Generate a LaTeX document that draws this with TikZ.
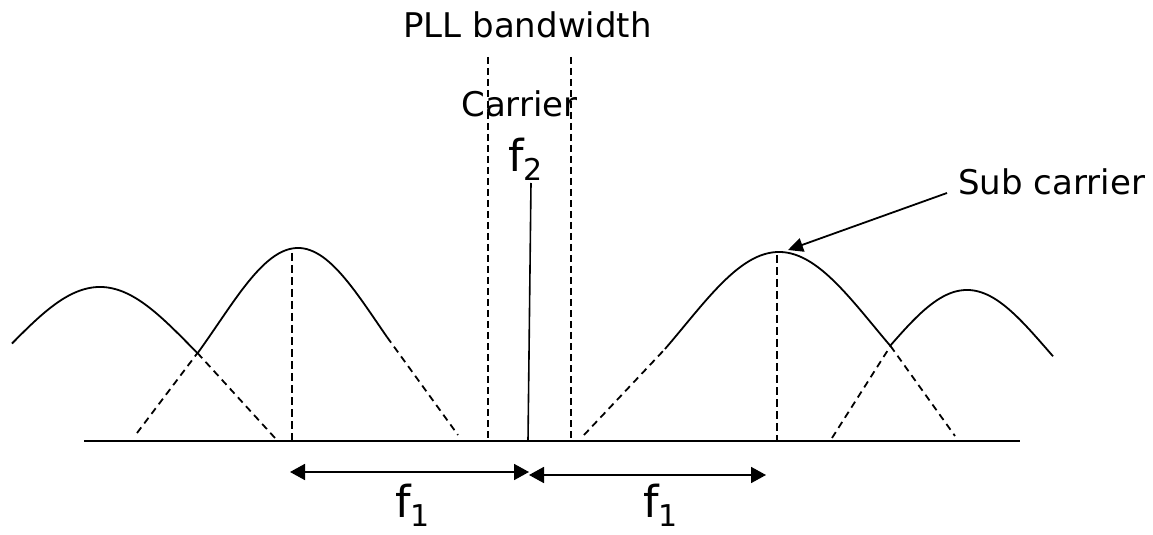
\documentclass[tikz,border=0pt]{standalone}
\usepackage{fontspec}
\setmainfont{DejaVu Sans}
\usetikzlibrary{arrows.meta}
\newcommand{\fsub}[1]{f\raisebox{-4.5pt}{\fontsize{15}{15}\selectfont #1}}

\begin{document}
\begin{tikzpicture}[x=0.5pt,y=-0.5pt,
    curve/.style={line width=0.9pt},
    tail/.style={line width=0.9pt,dash pattern=on 3.5pt off 2.5pt},
    peakline/.style={line width=0.9pt,dash pattern=on 4pt off 2pt},
    bandline/.style={line width=0.6pt,dash pattern=on 3.5pt off 2pt},
    span/.style={line width=0.9pt,{Triangle[length=7.5pt,width=8pt]}-{Triangle[length=7.5pt,width=8pt]}},
    lbl/.style={inner sep=0pt,anchor=base west,font=\fontsize{17}{20}\selectfont},
    flbl/.style={inner sep=0pt,anchor=base west,font=\fontsize{22}{24}\selectfont}]
  \useasboundingbox (0,0) rectangle (1153,535);
  % frequency axis
  \coordinate (ax0) at (84,441);
  \coordinate (ax1) at (1020,441);
  \draw[line width=1.1pt] (ax0) -- (ax1);
  % left sub carriers
  \coordinate (xl) at (197.5,353);
  \coordinate (e0) at (275,438);
  \coordinate (s1) at (137,433);
  \coordinate (m1) at (387,337);
  \coordinate (e1) at (458,435);
  \draw[curve] plot[domain=12:197.5,samples=60] (\x,{441-154*exp(-0.5*((\x-100)/92)^2)});
  \draw[curve] plot[domain=197.5:387,samples=60] (\x,{441-193*exp(-0.5*((\x-298)/80)^2)});
  \draw[tail] (xl) -- (e0);
  \draw[tail] (s1) -- (xl);
  \draw[tail] (m1) -- (e1);
  \draw[peakline] (292,253) -- (292,441);
  % right sub carriers
  \coordinate (s2) at (584,435);
  \coordinate (m2) at (665,349);
  \coordinate (xr) at (890.5,346);
  \coordinate (e2) at (955,436);
  \coordinate (s3) at (832,438);
  \draw[curve] plot[domain=665:890.5,samples=60] (\x,{441-189*exp(-0.5*((\x-779)/95)^2)});
  \draw[curve] plot[domain=890.5:1053,samples=60] (\x,{441-151*exp(-0.5*((\x-967)/80)^2)});
  \draw[tail] (s2) -- (m2);
  \draw[tail] (xr) -- (e2);
  \draw[tail] (s3) -- (xr);
  \draw[peakline] (777,255) -- (777,441);
  % PLL bandwidth and carrier
  \node[lbl] (pll) at (403,38) {PLL bandwidth};
  \draw[bandline] (488,57) -- (488,441);
  \draw[bandline] (571,57) -- (571,441);
  \node[lbl] (carrier) at (461,117) {Carrier};
  \node[flbl] (f2) at (508,172) {\fsub{2}};
  \coordinate (cfoot) at (528,441);
  \coordinate (ctop) at (531,183);
  \draw[line width=0.8pt] (cfoot) -- (ctop);
  % sub carrier label
  \node[lbl] (sub) at (958,195) {Sub carrier};
  \coordinate (subtail) at (947,193);
  \coordinate (subtip) at (788,250);
  \draw[line width=0.9pt,-{Triangle[length=7.5pt,width=7pt]}] (subtail) -- (subtip);
  % spacing
  \coordinate (a0) at (290,472);
  \coordinate (a1) at (529,472);
  \coordinate (b0) at (529,475);
  \coordinate (b1) at (766,475);
  \draw[span] (a0) -- (a1);
  \draw[span] (b0) -- (b1);
  \node[flbl] (f1l) at (395,517) {\fsub{1}};
  \node[flbl] (f1r) at (643,517) {\fsub{1}};
\end{tikzpicture}
\end{document}
